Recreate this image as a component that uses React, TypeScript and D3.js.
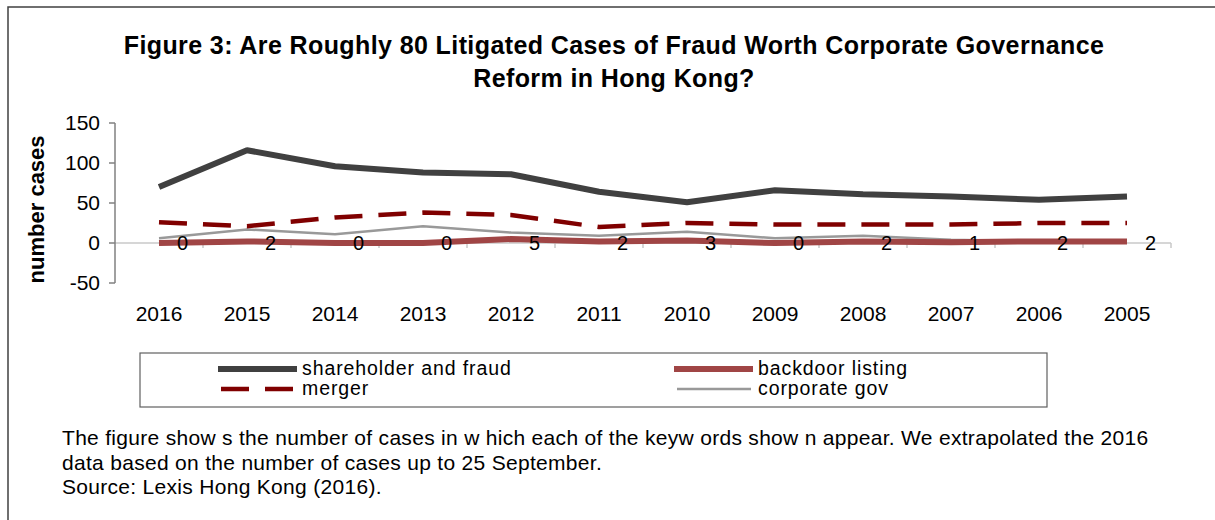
import React from "react";
import * as d3 from "d3";

const years = ["2016","2015","2014","2013","2012","2011","2010","2009","2008","2007","2006","2005"];
const shareholderFraud = [70,116,96,88,86,64,51,66,61,58,54,58];
const backdoorListing = [0,2,0,0,5,2,3,0,2,1,2,2];
const merger = [26,21,32,38,35,20,25,23,23,23,25,25];
const corporateGov = [6,17,11,21,13,9,14,6,9,4,2,2];
const yTicks = [-50,0,50,100,150];
const titleLines = ["Figure 3: Are Roughly 80 Litigated Cases of Fraud Worth Corporate Governance","Reform in Hong Kong?"];
const notes = [
  "The figure show s the number of cases in w hich each of the keyw ords show n appear. We extrapolated the 2016",
  "data based on the number of cases up to 25 September.",
  "Source: Lexis Hong Kong (2016).",
];

export default function App() {
  const W = 1215, H = 520;
  const font = "'Liberation Sans', Arial, sans-serif";
  const x0 = 115, x1 = 1171;
  const x = d3.scaleBand().domain(years).range([x0, x1]);
  const y = d3.scaleLinear().domain([-50, 150]).range([283, 123]);
  const cx = (d: string) => (x(d) as number) + x.bandwidth() / 2;
  const line = d3.line<number>().x((_, i) => cx(years[i])).y((v) => y(v));
  const series = [
    { name: "shareholder and fraud", data: shareholderFraud, color: "#404040", width: 6, dash: "" },
    { name: "backdoor listing", data: backdoorListing, color: "#a04545", width: 6, dash: "" },
    { name: "merger", data: merger, color: "#800000", width: 4.5, dash: "28,16" },
    { name: "corporate gov", data: corporateGov, color: "#999999", width: 2.5, dash: "" },
  ];
  const drawOrder = [3, 1, 2, 0];
  const boundaries = d3.range(years.length + 1).map((i) => x0 + i * x.bandwidth());
  return (
    <svg width={W} height={H} style={{ position: "absolute", left: 0, top: 0, background: "#fff" }} fontFamily={font}>
      <rect x={8} y={7} width={1240} height={560} fill="#fff" stroke="#404040" strokeWidth={1.5} />
      {titleLines.map((t, i) => (
        <text key={i} x={614} y={54 + i * 33} textAnchor="middle" fontSize={25} fontWeight="bold" letterSpacing={0.4} fill="#000">{t}</text>
      ))}
      {/* zero line + x ticks */}
      <line x1={x0} x2={x1} y1={y(0)} y2={y(0)} stroke="#c8c8c8" strokeWidth={1.5} />
      {boundaries.slice(1).map((b, i) => (
        <line key={i} x1={b} x2={b} y1={y(0)} y2={y(0) + 5} stroke="#c8c8c8" strokeWidth={1.5} />
      ))}
      {/* y axis */}
      <line x1={x0} x2={x0} y1={y(150)} y2={y(-50)} stroke="#808080" strokeWidth={1.5} />
      {yTicks.map((t) => (
        <g key={t}>
          <line x1={x0 - 6} x2={x0} y1={y(t)} y2={y(t)} stroke="#808080" strokeWidth={1.5} />
          <text x={100} y={y(t) + 7} textAnchor="end" fontSize={21} fill="#000">{t}</text>
        </g>
      ))}
      <text transform={`translate(44,${y(42)}) rotate(-90)`} textAnchor="middle" fontSize={22} fontWeight="bold" fill="#000">number cases</text>
      {years.map((yr) => (
        <text key={yr} x={cx(yr)} y={321} textAnchor="middle" fontSize={21} fill="#000">{yr}</text>
      ))}
      {drawOrder.map((si) => {
        const s = series[si];
        return (
          <path key={s.name} d={line(s.data) || ""} fill="none" stroke={s.color} strokeWidth={s.width} strokeDasharray={s.dash || undefined} strokeLinejoin="bevel" />
        );
      })}
      {backdoorListing.map((v, i) => (
        <text key={i} x={cx(years[i]) + 23.5} y={y(0) + 7} textAnchor="middle" fontSize={20} fill="#000">{v}</text>
      ))}
      {/* legend */}
      <rect x={140} y={353} width={907} height={54} fill="#fff" stroke="#606060" strokeWidth={1.2} />
      {series.map((s, i) => {
        const col = i === 0 || i === 2 ? 0 : 1;
        const row = i < 2 ? 0 : 1;
        const lx = col === 0 ? 218 : 674;
        const ly = 369 + row * 20;
        return (
          <g key={s.name}>
            {s.dash ? (
              <line x1={lx + 3} x2={lx + 79} y1={ly} y2={ly} stroke={s.color} strokeWidth={s.width} strokeDasharray="28,16" />
            ) : (
              <line x1={i === 3 ? lx + 3 : lx} x2={i === 3 ? lx + 77 : lx + 79} y1={ly} y2={ly} stroke={s.color} strokeWidth={s.width} />
            )}
            <text x={lx + 84} y={ly + 5.5} fontSize={19.5} letterSpacing={0.9} fill="#000">{s.name}</text>
          </g>
        );
      })}
      {notes.map((n, i) => (
        <text key={i} x={62} y={445 + i * 24.5} fontSize={21} letterSpacing={0.3} fill="#000">{n}</text>
      ))}
    </svg>
  );
}
